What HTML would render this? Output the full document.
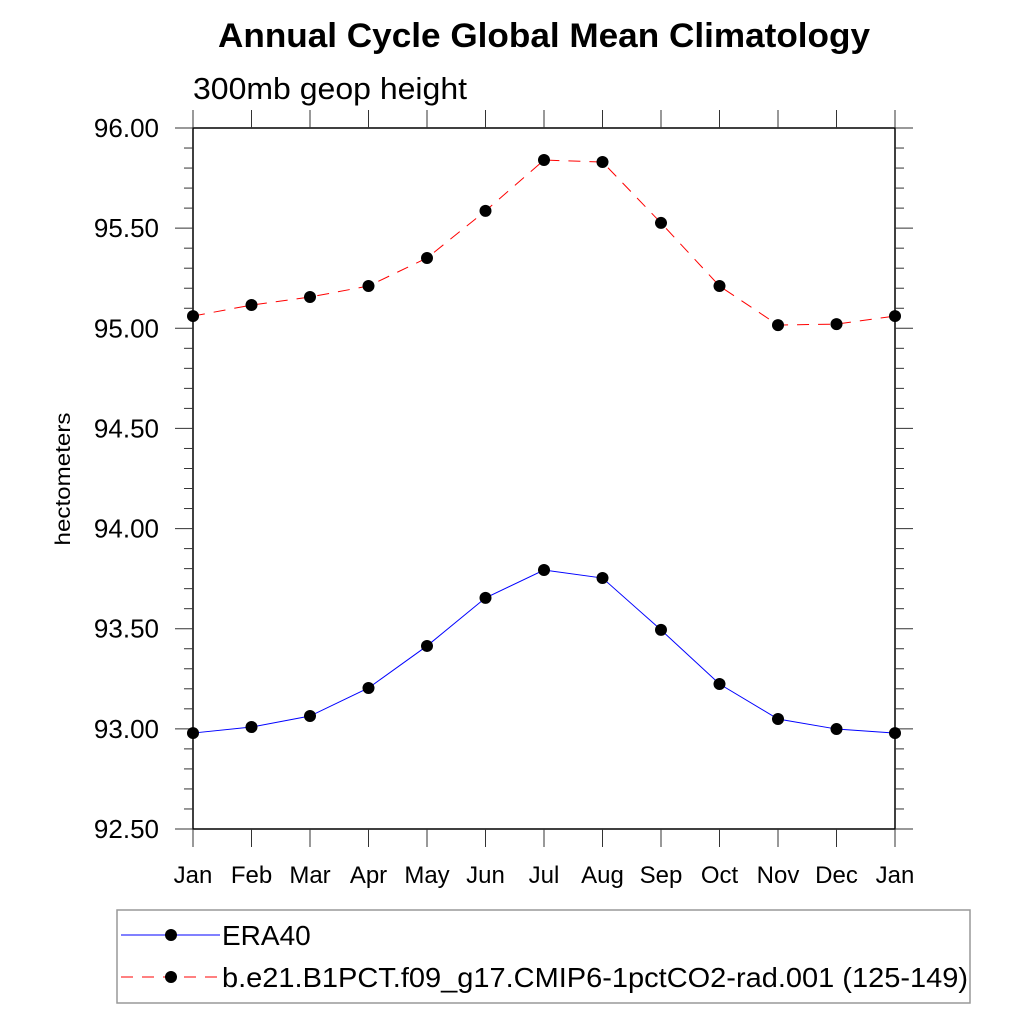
<!DOCTYPE html>
<html><head><meta charset="utf-8"><style>
body{margin:0;background:#fff;}
svg text{font-family:"Liberation Sans",Arial,sans-serif;}
</style></head><body>
<svg id="c" width="1024" height="1024" xmlns="http://www.w3.org/2000/svg">
<text x="544" y="47" text-anchor="middle" font-size="34" font-weight="bold" textLength="652" lengthAdjust="spacingAndGlyphs">Annual Cycle Global Mean Climatology</text>
<text x="193" y="99" font-size="31" textLength="274" lengthAdjust="spacingAndGlyphs">300mb geop height</text>
<text transform="translate(70,479) rotate(-90)" text-anchor="middle" font-size="21" textLength="133" lengthAdjust="spacingAndGlyphs">hectometers</text>
<g id="axes"></g>
<g id="series"></g>
<rect x="117" y="910" width="853" height="93" fill="none" stroke="#999" stroke-width="1.5"/>
<g>
<line x1="121" y1="935" x2="220" y2="935" stroke="#00f" stroke-width="1"/>
<circle cx="171" cy="935" r="6" fill="#000"/>
<text x="222" y="945" font-size="28">ERA40</text>
</g>
<g>
<line x1="121" y1="977" x2="220" y2="977" stroke="#f00" stroke-width="1" stroke-dasharray="12,9"/>
<circle cx="171" cy="977" r="6" fill="#000"/>
<text x="222" y="987" font-size="28" textLength="746" lengthAdjust="spacingAndGlyphs">b.e21.B1PCT.f09_g17.CMIP6-1pctCO2-rad.001 (125-149)</text>
</g>
</svg>
<script>
const months=["Jan","Feb","Mar","Apr","May","Jun","Jul","Aug","Sep","Oct","Nov","Dec","Jan"];
const eraValues=[92.979,93.009,93.064,93.204,93.414,93.654,93.793,93.753,93.494,93.224,93.049,92.999,92.979];
const modelValues=[95.061,95.116,95.156,95.211,95.351,95.586,95.840,95.830,95.526,95.211,95.016,95.021,95.061];
const yTicks=[92.5,93.0,93.5,94.0,94.5,95.0,95.5,96.0];
const yTickLabels=["92.50","93.00","93.50","94.00","94.50","95.00","95.50","96.00"];
const L=193,R=895,T=128,B=829,yMin=92.5,yMax=96;
const xs=i=>L+(R-L)*i/(months.length-1);
const ys=v=>B-(v-yMin)/(yMax-yMin)*(B-T);
const NS="http://www.w3.org/2000/svg";
function mk(t,a,p){const e=document.createElementNS(NS,t);for(const k in a)e.setAttribute(k,a[k]);p.appendChild(e);return e;}
const ax=document.getElementById('axes');
const fr=mk('rect',{x:L,y:T,width:R-L,height:B-T,fill:'none',stroke:'#000','stroke-width':1.5},ax);


for(let v=yMin;v<=yMax+1e-9;v+=0.1){const y=ys(v);const maj=Math.abs(v*2-Math.round(v*2))<1e-6;const len=maj?18:9;
mk('line',{x1:L-len,x2:L,y1:y,y2:y,stroke:'#333','stroke-width':1},ax);
mk('line',{x1:R,x2:R+len,y1:y,y2:y,stroke:'#333','stroke-width':1},ax);}
yTicks.forEach((v,i)=>{const t=mk('text',{x:159,y:ys(v)+9,'text-anchor':'end','font-size':26},ax);t.textContent=yTickLabels[i];

});
months.forEach((m,i)=>{const x=xs(i);
mk('line',{x1:x,x2:x,y1:T-18,y2:T,stroke:'#333','stroke-width':1},ax);
mk('line',{x1:x,x2:x,y1:B,y2:B+18,stroke:'#333','stroke-width':1},ax);
const t=mk('text',{x:x,y:883,'text-anchor':'middle','font-size':24},ax);t.textContent=m;

});
const sg=document.getElementById('series');
function series(vals,color,dash,name){
const g=mk('g',{},sg);


const p=mk('polyline',{points:vals.map((v,i)=>xs(i)+','+ys(v)).join(' '),fill:'none',stroke:color,'stroke-width':1},g);
if(dash)p.setAttribute('stroke-dasharray',dash);
vals.forEach((v,i)=>{const c=mk('circle',{cx:xs(i),cy:ys(v),r:6,fill:'#000'},g);

});}
series(eraValues,'#00f',null,'era40-series');
series(modelValues,'#f00','12,9','model-series');
</script>
</body></html>
